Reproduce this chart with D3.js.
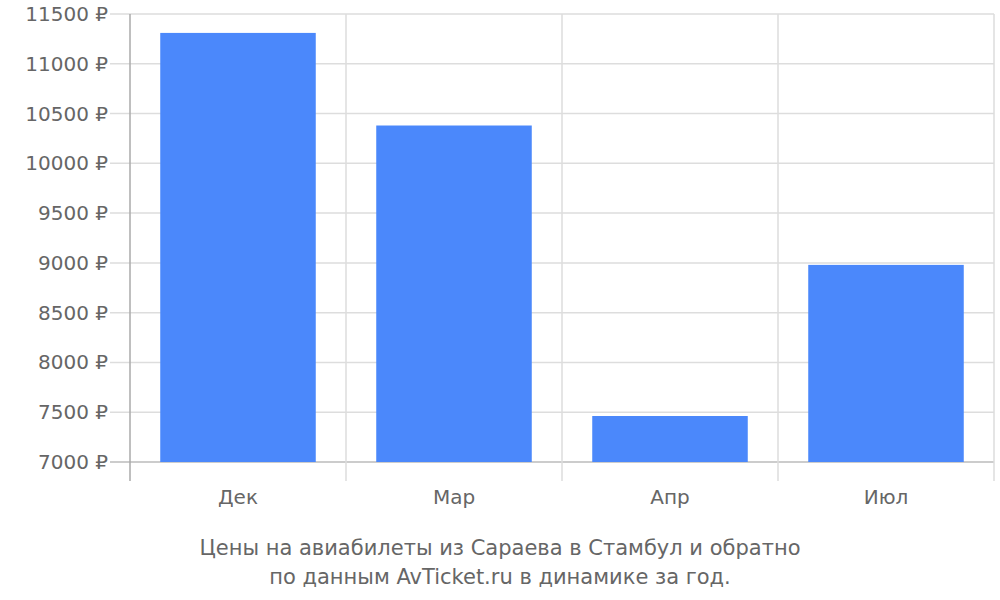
<!DOCTYPE html><html><head><meta charset="utf-8"><script src="https://d3js.org/d3.v7.min.js"></script>
<style>body{margin:0;background:#fff}text{font-family:"DejaVu Sans";fill:#666}</style></head><body><svg width="1000" height="600"></svg><script>
const categories=["Дек","Мар","Апр","Июл"];
const values=[11310,10380,7462,8980];
const yTicks=[7000,7500,8000,8500,9000,9500,10000,10500,11000,11500];
const titleLines=["Цены на авиабилеты из Сараева в Стамбул и обратно","по данным AvTicket.ru в динамике за год."];
const svg=d3.select("svg");
const L=130,R=994,T=14,B=462;
const x=d3.scaleBand().domain(categories).range([L,R]).paddingInner(0.28).paddingOuter(0.14);
const xb=d3.scaleBand().domain(categories).range([L,R]);
const y=d3.scaleLinear().domain([7000,11500]).range([B,T]);
const g=svg.append("g");
yTicks.forEach(t=>{g.append("line").attr("x1",110).attr("x2",R).attr("y1",y(t)).attr("y2",y(t)).attr("stroke",t==7000?"#bbb":"#ddd").attr("stroke-width",1.5);
g.append("text").attr("x",108).attr("y",y(t)).attr("dy","0.35em").attr("text-anchor","end").attr("font-size",20).text(t+" ₽");});
categories.forEach((c,i)=>{g.append("line").attr("x1",xb(c)+xb.bandwidth()).attr("x2",xb(c)+xb.bandwidth()).attr("y1",T).attr("y2",481).attr("stroke","#ddd").attr("stroke-width",1.5);
g.append("text").attr("x",xb(c)+xb.bandwidth()/2).attr("y",504).attr("text-anchor","middle").attr("font-size",20).text(c);});
g.append("line").attr("x1",L).attr("x2",L).attr("y1",T).attr("y2",481).attr("stroke","#aaa").attr("stroke-width",1.5);
g.selectAll("rect.b").data(values).join("rect").attr("x",(d,i)=>x(categories[i])).attr("width",x.bandwidth()).attr("y",d=>y(d)).attr("height",d=>B-y(d)).attr("fill","#4b88fb");
titleLines.forEach((s,i)=>g.append("text").attr("x",500).attr("y",555+i*29).attr("text-anchor","middle").attr("font-size",21).text(s));
</script></body></html>
